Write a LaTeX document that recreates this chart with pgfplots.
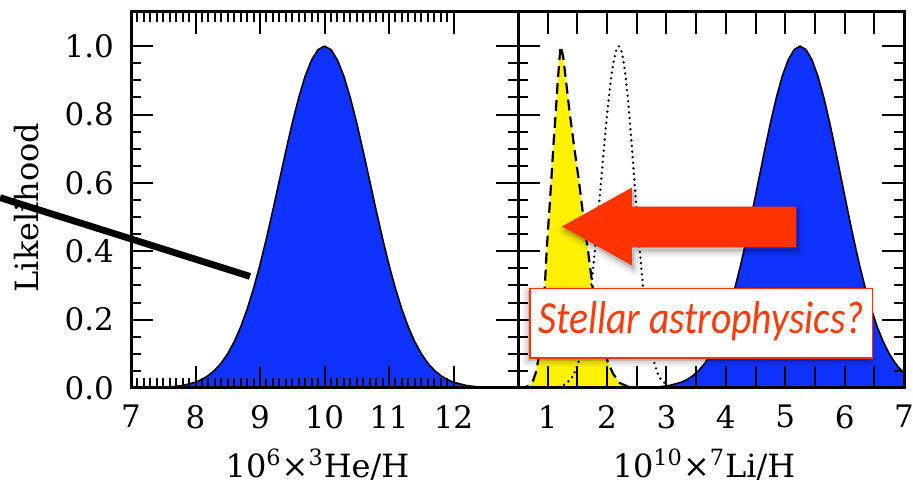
\documentclass[border=0pt]{standalone}
\usepackage{pgfplots}
\pgfplotsset{compat=1.18}
\usepackage{fontspec}
\setmainfont{DejaVu Serif}
\newfontfamily\annfont{Carlito}
\definecolor{myblue}{RGB}{16,50,255}
\definecolor{myred}{RGB}{255,51,0}
\definecolor{textred}{RGB}{255,58,12}

\pgfplotsset{
 panel/.style={
  scale only axis, height=188pt, ymin=0, ymax=1.1,
  axis on top, tick align=inside,
  ytick={0,0.2,0.4,0.6,0.8,1.0}, minor y tick num=3,
  major tick length=11pt, minor tick length=5pt,
  tick style={black, line width=1pt},
  axis line style={line width=1.5pt},
  /pgf/number format/assume math mode=true,
  tick label style={font=\fontsize{15.5}{18}\selectfont},
  label style={font=\fontsize{16}{19}\selectfont},
  yticklabel style={/pgf/number format/fixed,/pgf/number format/fixed zerofill,/pgf/number format/precision=1, xshift=-5pt},
  xticklabel style={yshift=-5pt},
  xlabel style={at={(axis description cs:0.5,0)}, anchor=base, yshift=-45pt, xshift=-3.5pt},
 }
}

\begin{document}
\begin{tikzpicture}
\path[use as bounding box] (-65.5pt,-48.5pt) rectangle (391pt,194pt);

\begin{axis}[panel, at={(0,0)}, anchor=south west, width=193.5pt,
  xmin=7, xmax=13, xtick={7,8,9,10,11,12}, minor x tick num=9,
  ylabel={Likelihood},
  ylabel style={at={(axis description cs:-0.27,0.48)}, anchor=center},
  xlabel={10\textsuperscript{6}×\textsuperscript{3}He/H}]
\addplot[draw=black, line width=0.8pt, fill=myblue] coordinates {
(7.0,0.0001) (7.2,0.0003) (7.4,0.0010) (7.6,0.0028) (7.8,0.0072)
(8.0,0.0169) (8.1,0.0251) (8.2,0.0367) (8.3,0.0524) (8.4,0.0734)
(8.5,0.1007) (8.6,0.1353) (8.7,0.1783) (8.8,0.2301) (8.9,0.2909)
(9.0,0.3604) (9.1,0.4376) (9.2,0.5205) (9.3,0.6065) (9.4,0.6926)
(9.5,0.7748) (9.6,0.8494) (9.7,0.9123) (9.8,0.9600) (9.9,0.9899)
(10.0,1.0)
(10.1,0.9899) (10.2,0.9600) (10.3,0.9123) (10.4,0.8494) (10.5,0.7748)
(10.6,0.6926) (10.7,0.6065) (10.8,0.5205) (10.9,0.4376) (11.0,0.3604)
(11.1,0.2909) (11.2,0.2301) (11.3,0.1783) (11.4,0.1353) (11.5,0.1007)
(11.6,0.0734) (11.7,0.0524) (11.8,0.0367) (11.9,0.0251) (12.0,0.0169)
(12.2,0.0072) (12.4,0.0028) (12.6,0.0010) (12.8,0.0003) (13.0,0.0001)
} \closedcycle;
\coordinate (D1) at (axis cs:4.969,0.5569);
\coordinate (D2) at (axis cs:8.845,0.3265);
\end{axis}

\begin{axis}[panel, at={(193.5pt,0)}, anchor=south west, width=193pt,
  xmin=0.5, xmax=7, xtick={1,1.5,2,2.5,3,3.5,4,4.5,5,5.5,6,6.5,7},
  xticklabels={1,,2,,3,,4,,5,,6,,7}, yticklabels={},
  xlabel={10\textsuperscript{10}×\textsuperscript{7}Li/H}]
% yellow (filled, dashed outline)
\addplot[draw=none, fill=yellow] coordinates {
(0.50,0.0003) (0.60,0.001) (0.70,0.008) (0.75,0.02) (0.80,0.045) (0.85,0.09)
(0.90,0.17) (0.95,0.29) (0.982,0.40) (1.02,0.50) (1.058,0.60) (1.10,0.72)
(1.133,0.80) (1.17,0.90) (1.20,0.965) (1.218,1.0) (1.26,0.97) (1.307,0.90)
(1.34,0.85) (1.374,0.80) (1.45,0.70) (1.53,0.60) (1.60,0.50) (1.68,0.40)
(1.76,0.29) (1.84,0.19) (1.92,0.125) (2.01,0.078) (2.10,0.042) (2.21,0.015)
(2.35,0.004) (2.50,0.001) (2.70,0.0)
} \closedcycle;
\addplot[black, line width=1.1pt, dash pattern=on 5.5pt off 3pt] coordinates {
(0.50,0.0003) (0.60,0.001) (0.70,0.008) (0.75,0.02) (0.80,0.045) (0.85,0.09)
(0.90,0.17) (0.95,0.29) (0.982,0.40) (1.02,0.50) (1.058,0.60) (1.10,0.72)
(1.133,0.80) (1.17,0.90) (1.20,0.965) (1.218,1.0) (1.26,0.97) (1.307,0.90)
(1.34,0.85) (1.374,0.80) (1.45,0.70) (1.53,0.60) (1.60,0.50) (1.68,0.40)
(1.76,0.29) (1.84,0.19) (1.92,0.125) (2.01,0.078) (2.10,0.042) (2.21,0.015)
(2.35,0.004) (2.50,0.001) (2.70,0.0)
};
% dotted
\addplot[black, line width=1.3pt, line cap=round, dash pattern=on 0pt off 2.8pt] coordinates {
(1.00,0.0003) (1.10,0.0012) (1.20,0.0039) (1.30,0.0111) (1.40,0.0286)
(1.45,0.0439) (1.50,0.0657) (1.55,0.0956) (1.60,0.135) (1.65,0.186)
(1.70,0.249) (1.75,0.325) (1.80,0.411) (1.85,0.506) (1.90,0.607)
(1.95,0.707) (2.00,0.801) (2.05,0.882) (2.10,0.946) (2.15,0.986)
(2.20,1.0) (2.25,0.982) (2.30,0.929) (2.35,0.847) (2.40,0.744)
(2.45,0.630) (2.50,0.514) (2.55,0.404) (2.60,0.306) (2.65,0.224)
(2.70,0.157) (2.75,0.107) (2.80,0.0698) (2.85,0.0439) (2.90,0.0267)
(3.00,0.0088) (3.10,0.0025) (3.20,0.0006)
};
% blue
\addplot[draw=black, line width=0.8pt, fill=myblue] coordinates {
(2.25,0.0001) (2.65,0.0010) (2.85,0.0028) (3.05,0.0072) (3.25,0.0169)
(3.35,0.0251) (3.45,0.0367) (3.55,0.0524) (3.65,0.0734) (3.75,0.1007)
(3.85,0.1353) (3.95,0.1783) (4.05,0.2301) (4.15,0.2909) (4.25,0.3604)
(4.35,0.4376) (4.45,0.5205) (4.55,0.6065) (4.65,0.6926) (4.75,0.7748)
(4.85,0.8494) (4.95,0.9123) (5.05,0.9600) (5.15,0.9899) (5.25,1.0)
(5.35,0.9899) (5.45,0.9600) (5.55,0.9123) (5.65,0.8494) (5.75,0.7748)
(5.85,0.6926) (5.95,0.6065) (6.05,0.5205) (6.15,0.4376) (6.25,0.3604)
(6.35,0.2909) (6.45,0.2301) (6.55,0.1783) (6.65,0.1353) (6.75,0.1007)
(6.85,0.0734) (6.95,0.0524) (7.0,0.0439)
} \closedcycle;
\coordinate (T) at (axis cs:1.2395,0.4723);
\coordinate (HT) at (axis cs:2.416,0.586);
\coordinate (ST) at (axis cs:2.416,0.5306);
\coordinate (RT) at (axis cs:5.189,0.5306);
\coordinate (RB) at (axis cs:5.189,0.4111);
\coordinate (SB) at (axis cs:2.416,0.4111);
\coordinate (HB) at (axis cs:2.416,0.3586);
\coordinate (B1) at (axis cs:0.702,0.0875);
\coordinate (B2) at (axis cs:6.466,0.2915);
\coordinate (BC) at (axis cs:3.584,0.1895);
\end{axis}

% annotation line
\draw[line width=3.4pt] (D1) -- (D2);

% arrow with soft shadow
\def\arrowpath#1{([shift={#1}]T) -- ([shift={#1}]HT) -- ([shift={#1}]ST) -- ([shift={#1}]RT) -- ([shift={#1}]RB) -- ([shift={#1}]SB) -- ([shift={#1}]HB) -- cycle}
\foreach \w/\o in {6pt/0.04,4pt/0.05,2pt/0.06}{
  \filldraw[black, opacity=\o, line width=\w, line join=round] \arrowpath{(1pt,-2pt)};
}
\fill[myred] \arrowpath{(0pt,0pt)};

% text box with soft shadow
\foreach \w/\o in {6pt/0.04,4pt/0.05,2pt/0.06}{
  \filldraw[black, opacity=\o, line width=\w, line join=round] ([shift={(-1pt,-1.5pt)}]B1) rectangle ([shift={(-1pt,-1.5pt)}]B2);
}
\filldraw[fill=white, draw=myred, line width=0.8pt] (B1) rectangle (B2);
\node[text=textred, font=\annfont\itshape\fontsize{23}{27}\selectfont, yshift=1pt] at (BC) {\scalebox{0.86}[1]{Stellar astrophysics?}};
\end{tikzpicture}
\end{document}
